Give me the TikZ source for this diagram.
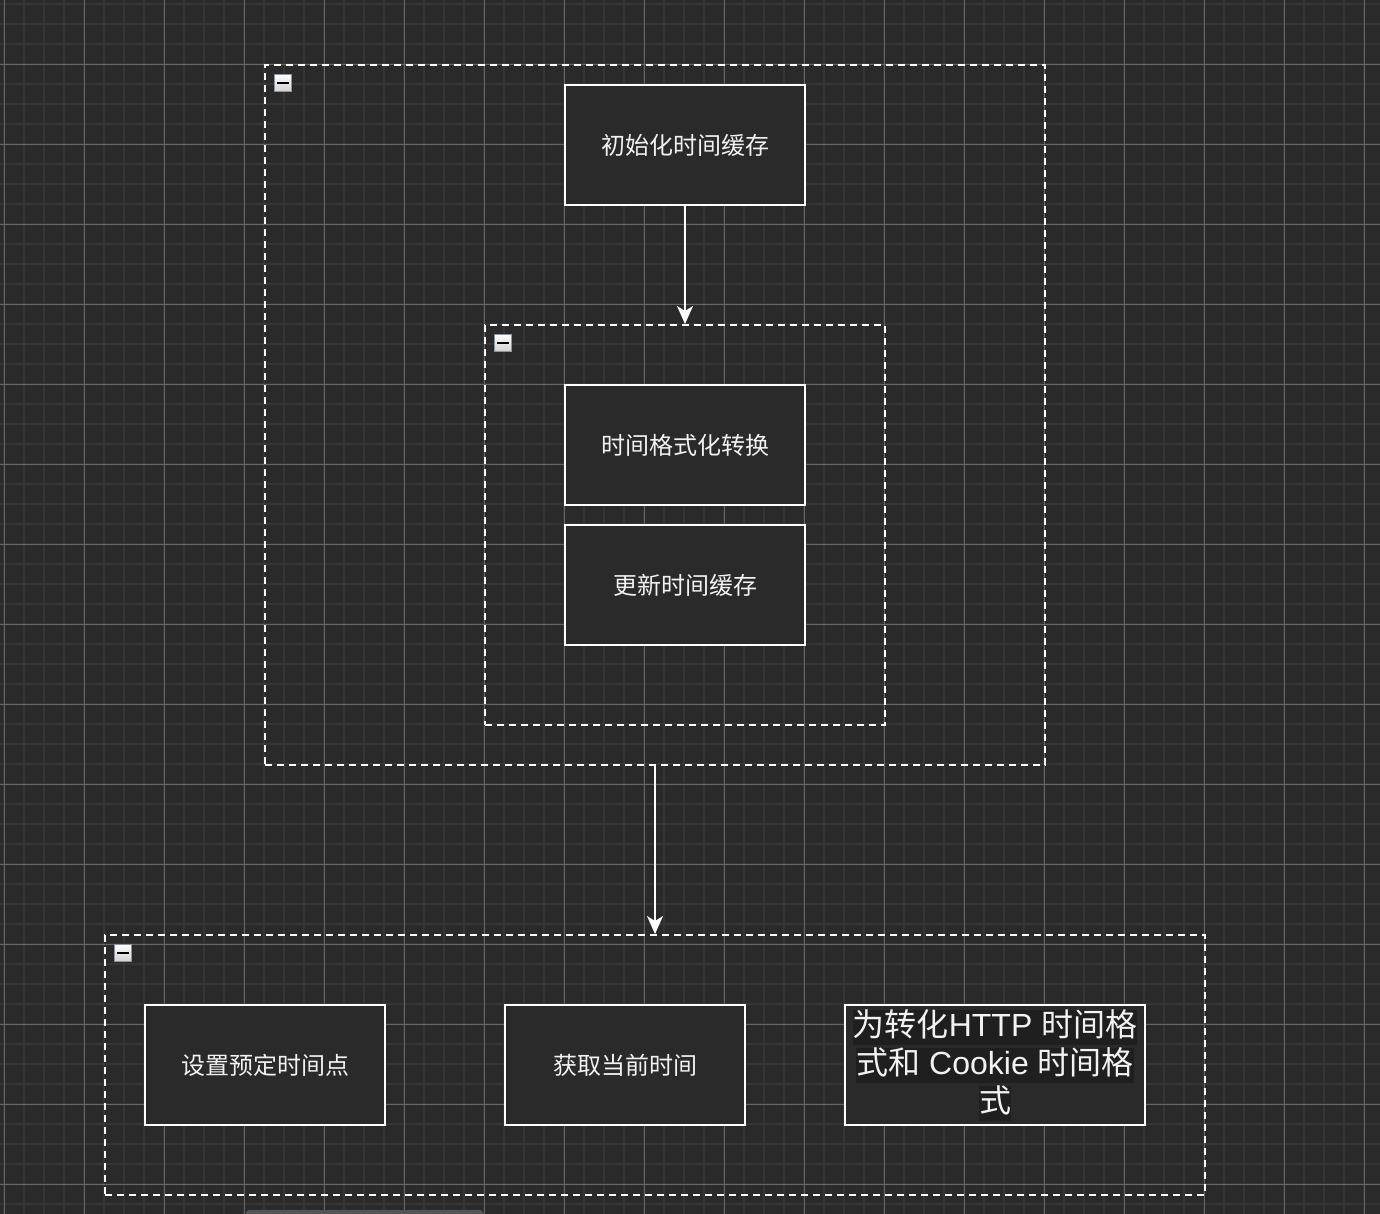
\documentclass[tikz,border=0pt]{standalone}
\usepackage{fontspec}
\setmainfont{Liberation Sans}
\newfontfamily\cjk{Noto Sans CJK SC}
\usetikzlibrary{arrows.meta}
\definecolor{bg}{HTML}{2A2A2A}
\definecolor{minorgrid}{HTML}{353535}
\definecolor{majorgrid}{HTML}{666666}
\definecolor{hl}{HTML}{1F1F1F}
\definecolor{txt}{HTML}{F2F2F2}
\definecolor{iconborder}{HTML}{8C93A3}
\definecolor{scrollc}{HTML}{50565A}
\tikzset{
  procbox/.style={draw=white, line width=2pt, fill=bg, minimum width=240pt, minimum height=120pt,
    inner sep=0pt, text=txt, font=\cjk\fontsize{24}{28}\selectfont},
  container/.style={draw=white, line width=2pt, dash pattern=on 7pt off 5pt, inner sep=0pt},
  collapseicon/.style={draw=iconborder, line width=1.5pt, top color=white, bottom color=black!18,
    minimum size=17pt, inner sep=0pt},
  flow/.style={draw=white, line width=2pt, -{Stealth[length=18pt,width=16pt,inset=5pt]}},
  hlline/.style={fill=hl, text=txt, inner xsep=0pt, inner ysep=1pt, text height=26pt, text depth=7pt,
    font=\fontsize{32}{38}\selectfont},
}
\begin{document}
\begin{tikzpicture}[x=1pt,y=-1pt]
\useasboundingbox (0,0) rectangle (1380,1214);
\clip (0,0) rectangle (1380,1214);
\fill[bg] (0,0) rectangle (1380,1214);
% grid
\foreach \x in {4,24,...,1380} \draw[minorgrid, line width=1.3pt] (\x,0) -- (\x,1214);
\foreach \y in {4,24,...,1214} \draw[minorgrid, line width=1.3pt] (0,\y) -- (1380,\y);
\foreach \x in {4,84,...,1380} \draw[majorgrid, line width=0.9pt] (\x,0) -- (\x,1214);
\foreach \y in {64,144,...,1214} \draw[majorgrid, line width=0.9pt] (0,\y) -- (1380,\y);

% containers
\node[container, minimum width=780pt, minimum height=700pt] (c1) at (655,415) {};
\node[container, minimum width=400pt, minimum height=400pt] (c2) at (685,525) {};
\node[container, minimum width=1100pt, minimum height=260pt] (c3) at (655,1065) {};

% collapse icons
\foreach \n/\cx/\cy in {i1/283/83, i2/503/343, i3/123/953}{
  \node[collapseicon] (\n) at (\cx,\cy) {};
  \draw[black, line width=2.5pt] ([xshift=-6pt]\n.center) -- ([xshift=6pt]\n.center);
}

% boxes
\node[procbox] (b1) at (685,145) {初始化时间缓存};
\node[procbox] (b2) at (685,445) {时间格式化转换};
\node[procbox] (b3) at (685,585) {更新时间缓存};
\node[procbox] (b4) at (265,1065) {设置预定时间点};
\node[procbox] (b5) at (625,1065) {获取当前时间};
\node[procbox, minimum width=300pt] (b6) at (995,1065) {};
\node[hlline] (t1) at (995,1027) {{\cjk 为转化}HTTP {\cjk 时间格}};
\node[hlline] (t2) at (995,1065) {{\cjk 式和} Cookie {\cjk 时间格}};
\node[hlline] (t3) at (995,1103) {{\cjk 式}};

% connectors
\draw[flow] (b1.south) -- (c2.north);
\draw[flow] (c1.south) -- (c3.north);

% scrollbar
\fill[scrollc, rounded corners=3pt] (246,1210) rectangle (483,1222);
\end{tikzpicture}
\end{document}
